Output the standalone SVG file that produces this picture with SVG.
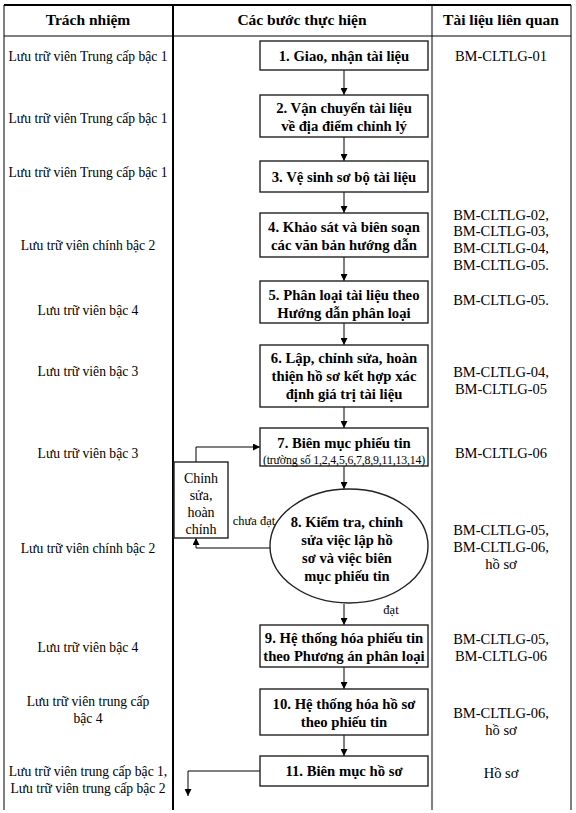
<svg xmlns="http://www.w3.org/2000/svg" width="576" height="813" viewBox="0 0 576 813" font-family="'Liberation Serif', 'DejaVu Serif', 'Times New Roman', serif">
<defs>
<marker id="ah" viewBox="0 0 10 10" refX="10" refY="5" markerWidth="7" markerHeight="7" markerUnits="userSpaceOnUse" orient="auto">
<path d="M0,0 L10,5 L0,10 z" fill="#000"/>
</marker>
<style>
text{fill:#000}
.h{font-size:15.5px;font-weight:bold;text-anchor:middle}
.b{font-size:14.7px;font-weight:bold;text-anchor:middle}
.e{font-size:14.5px;font-weight:bold;text-anchor:middle}
.r{font-size:13.6px;text-anchor:middle}
.d{font-size:14.5px;text-anchor:middle}
.s{font-size:11.8px;text-anchor:middle;letter-spacing:-0.15px}
.box{fill:#fff;stroke:#222;stroke-width:1.4}
.grid{stroke:#000;stroke-width:1;fill:none}
.thick{stroke:#000;stroke-width:2;fill:none}
.con{stroke:#000;stroke-width:1;fill:none}
</style>
</defs>
<rect width="576" height="813" fill="#fff"/>
<g id="table">
<line class="thick" x1="4" y1="5" x2="571" y2="5"/>
<line class="grid" x1="4" y1="5" x2="4" y2="810"/>
<line class="grid" x1="571" y1="5" x2="571" y2="810"/>
<line class="grid" x1="4" y1="36" x2="571" y2="36"/>
<line class="thick" x1="173" y1="5" x2="173" y2="810"/>
<line class="grid" x1="432" y1="5" x2="432" y2="810"/>
<text class="h" x="88" y="25">Trách nhiệm</text>
<text class="h" x="302" y="25">Các bước thực hiện</text>
<text class="h" x="501" y="25">Tài liệu liên quan</text>
</g>
<g id="responsibility">
<text class="r" x="88" y="61">Lưu trữ viên Trung cấp bậc 1</text>
<text class="r" x="88" y="123">Lưu trữ viên Trung cấp bậc 1</text>
<text class="r" x="88" y="177">Lưu trữ viên Trung cấp bậc 1</text>
<text class="r" x="88" y="250">Lưu trữ viên chính bậc 2</text>
<text class="r" x="88" y="315">Lưu trữ viên bậc 4</text>
<text class="r" x="88" y="376">Lưu trữ viên bậc 3</text>
<text class="r" x="88" y="458">Lưu trữ viên bậc 3</text>
<text class="r" x="88" y="553">Lưu trữ viên chính bậc 2</text>
<text class="r" x="88" y="652">Lưu trữ viên bậc 4</text>
<text class="r" x="88" y="706">Lưu trữ viên trung cấp</text>
<text class="r" x="88" y="723">bậc 4</text>
<text class="r" x="88" y="776">Lưu trữ viên trung cấp bậc 1,</text>
<text class="r" x="88" y="793">Lưu trữ viên trung cấp bậc 2</text>
</g>
<g id="documents">
<text class="d" x="501" y="61">BM-CLTLG-01</text>
<text class="d" x="501" y="220">BM-CLTLG-02,</text>
<text class="d" x="501" y="236">BM-CLTLG-03,</text>
<text class="d" x="501" y="253">BM-CLTLG-04,</text>
<text class="d" x="501" y="270">BM-CLTLG-05.</text>
<text class="d" x="501" y="305">BM-CLTLG-05.</text>
<text class="d" x="501" y="377">BM-CLTLG-04,</text>
<text class="d" x="501" y="394">BM-CLTLG-05</text>
<text class="d" x="501" y="458">BM-CLTLG-06</text>
<text class="d" x="501" y="535">BM-CLTLG-05,</text>
<text class="d" x="501" y="552">BM-CLTLG-06,</text>
<text class="d" x="501" y="569">hồ sơ</text>
<text class="d" x="501" y="644">BM-CLTLG-05,</text>
<text class="d" x="501" y="661">BM-CLTLG-06</text>
<text class="d" x="501" y="718">BM-CLTLG-06,</text>
<text class="d" x="501" y="735">hồ sơ</text>
<text class="d" x="501" y="778">Hồ sơ</text>
</g>
<g id="connectors">
<line class="con" x1="344" y1="70" x2="344" y2="95" marker-end="url(#ah)"/>
<line class="con" x1="344" y1="137" x2="344" y2="161" marker-end="url(#ah)"/>
<line class="con" x1="344" y1="192" x2="344" y2="213" marker-end="url(#ah)"/>
<line class="con" x1="344" y1="257" x2="344" y2="281" marker-end="url(#ah)"/>
<line class="con" x1="344" y1="323" x2="344" y2="345" marker-end="url(#ah)"/>
<line class="con" x1="344" y1="407" x2="344" y2="428" marker-end="url(#ah)"/>
<line class="con" x1="344" y1="466" x2="344" y2="489" marker-end="url(#ah)"/>
<line class="con" x1="344" y1="604" x2="344" y2="625" marker-end="url(#ah)"/>
<line class="con" x1="344" y1="667" x2="344" y2="689" marker-end="url(#ah)"/>
<line class="con" x1="344" y1="735" x2="344" y2="756" marker-end="url(#ah)"/>
<polyline class="con" points="270,548 196,548 196,538" marker-end="url(#ah)"/>
<polyline class="con" points="196,462 196,447 260,447" marker-end="url(#ah)"/>
<polyline class="con" points="260,771 188,771 188,796" marker-end="url(#ah)"/>
<text class="r" x="254" y="525" style="font-size:12.5px">chưa đạt</text>
<text class="r" x="391" y="614" style="font-size:12.5px">đạt</text>
</g>
<g id="n1"><rect class="box" x="260" y="41" width="168" height="29"/><text class="b" x="344" y="61">1. Giao, nhận tài liệu</text></g>
<g id="n2"><rect class="box" x="260" y="95" width="168" height="42"/><text class="b" x="344" y="113">2. Vận chuyển tài liệu</text><text class="b" x="344" y="131">về địa điểm chỉnh lý</text></g>
<g id="n3"><rect class="box" x="260" y="161" width="168" height="31"/><text class="b" x="344" y="182">3. Vệ sinh sơ bộ tài liệu</text></g>
<g id="n4"><rect class="box" x="260" y="213" width="168" height="44"/><text class="b" x="344" y="232">4. Khảo sát và biên soạn</text><text class="b" x="344" y="250">các văn bản hướng dẫn</text></g>
<g id="n5"><rect class="box" x="260" y="281" width="168" height="42"/><text class="b" x="344" y="300">5. Phân loại tài liệu theo</text><text class="b" x="344" y="318">Hướng dẫn phân loại</text></g>
<g id="n6"><rect class="box" x="260" y="345" width="168" height="62"/><text class="b" x="344" y="363">6. Lập, chỉnh sửa, hoàn</text><text class="b" x="344" y="381">thiện hồ sơ kết hợp xác</text><text class="b" x="344" y="399">định giá trị tài liệu</text></g>
<g id="n7"><rect class="box" x="260" y="428" width="168" height="38"/><text class="b" x="344" y="448">7. Biên mục phiếu tin</text><text class="s" x="344" y="464">(trường số 1,2,4,5,6,7,8,9,11,13,14)</text></g>
<g id="n8"><ellipse class="box" cx="349" cy="546" rx="79" ry="57"/><text class="e" x="347" y="527">8. Kiểm tra, chỉnh</text><text class="e" x="347" y="545">sửa việc lập hồ</text><text class="e" x="347" y="563">sơ và việc biên</text><text class="e" x="347" y="581">mục phiếu tin</text></g>
<g id="fix"><rect class="box" x="174" y="462" width="54" height="76"/><text class="r" x="201" y="483" style="font-size:14px">Chỉnh</text><text class="r" x="201" y="500" style="font-size:14px">sửa,</text><text class="r" x="201" y="517" style="font-size:14px">hoàn</text><text class="r" x="201" y="534" style="font-size:14px">chỉnh</text></g>
<g id="n9"><rect class="box" x="260" y="625" width="168" height="42"/><text class="b" x="344" y="643">9. Hệ thống hóa phiếu tin</text><text class="b" x="344" y="661">theo Phương án phân loại</text></g>
<g id="n10"><rect class="box" x="260" y="689" width="168" height="46"/><text class="b" x="344" y="709">10. Hệ thống hóa hồ sơ</text><text class="b" x="344" y="727">theo phiếu tin</text></g>
<g id="n11"><rect class="box" x="260" y="756" width="168" height="30"/><text class="b" x="344" y="776">11. Biên mục hồ sơ</text></g>
</svg>
